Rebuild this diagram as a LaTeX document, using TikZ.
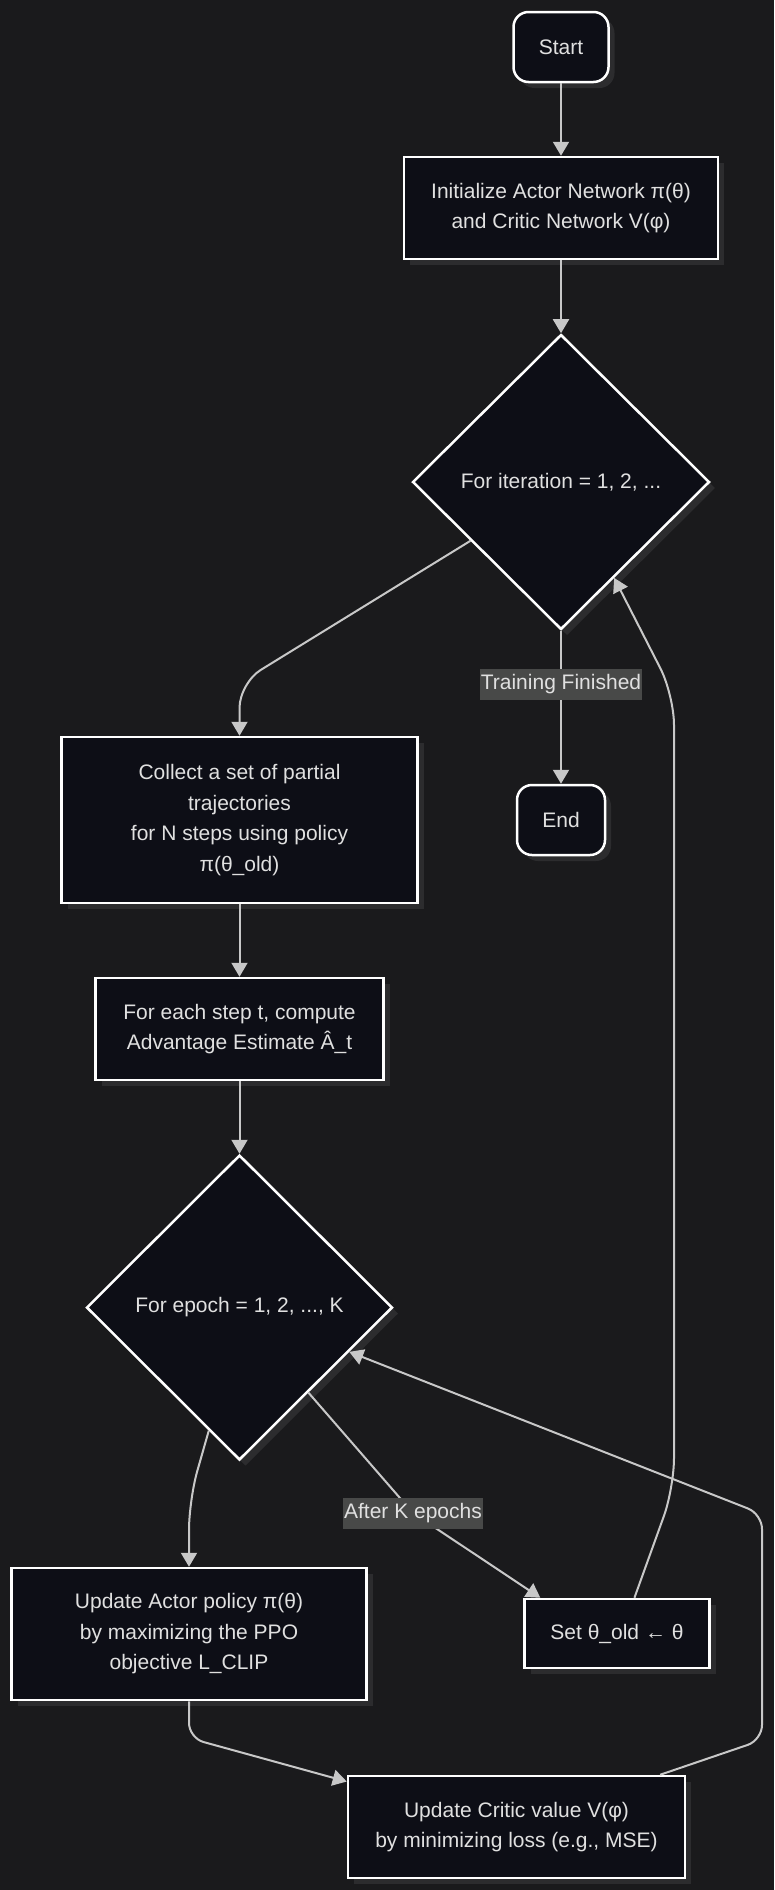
\documentclass[tikz,border=0pt]{standalone}
\usepackage{fontspec}
\setmainfont{Liberation Sans}
\usepackage{xcolor}
\usepackage{tikz}
\usetikzlibrary{shapes.geometric}
\usetikzlibrary{shadows}
\usetikzlibrary{arrows.meta}

\definecolor{canvas}{RGB}{26,26,28}
\definecolor{boxfill}{RGB}{13,14,22}
\definecolor{boxshadow}{RGB}{44,44,46}
\definecolor{flowtext}{RGB}{224,224,224}
\definecolor{flowline}{RGB}{200,200,200}
\definecolor{labelfill}{RGB}{72,73,72}

\tikzset{flow box/.style={
  rectangle, draw=white, line width=2.5pt, fill=boxfill,
  text=flowtext, align=center, inner sep=0pt,
  font=\fontsize{21}{30.5}\selectfont,
  drop shadow={shadow xshift=6pt, shadow yshift=-6pt,
    fill=boxshadow, opacity=1}
  }
}
\tikzset{flow diamond/.style={
  flow box, diamond
  }
}
\tikzset{flow arrow/.style={
  draw=flowline, line width=2pt,
  -{Triangle[width=16pt,length=14pt]}
  }
}
\tikzset{flow label/.style={
  fill=labelfill, text=flowtext, sharp corners,
  inner xsep=1pt, inner ysep=0pt, minimum height=31pt,
  font=\fontsize{21}{25}\selectfont
  }
}

\begin{document}
\begin{tikzpicture}[x=1pt, y=-1pt]

    % Background: dark canvas
    \fill[canvas] (0,0) rectangle (774,1890);
    \useasboundingbox (0,0) rectangle (774,1890);

    % Nodes: outer loop
    \node[flow box, rounded corners=15pt, minimum width=95pt, minimum height=70pt] (start) at (561,47) {Start};
    \node[flow box, minimum width=314pt, minimum height=102pt] (init) at (561,208) {Initialize Actor Network π(θ)\\and Critic Network V(φ)};
    \node[flow diamond, minimum width=297pt, minimum height=295pt] (iter) at (561,482) {For iteration = 1, 2, ...};
    \node[flow box, rounded corners=15pt, minimum width=88pt, minimum height=70pt] (finish) at (561,820) {End};

    % Nodes: rollout and advantage
    \node[flow box, minimum width=356pt, minimum height=166pt] (collect) at (239.5,820) {Collect a set of partial\\trajectories\\for N steps using policy\\π(θ\_old)};
    \node[flow box, minimum width=288pt, minimum height=102pt] (adv) at (239.5,1029) {For each step t, compute\\Advantage Estimate Â\_t};

    % Nodes: inner loop
    \node[flow diamond, minimum width=306pt, minimum height=305pt] (epoch) at (239.5,1307.5) {For epoch = 1, 2, ..., K};
    \node[flow box, minimum width=355pt, minimum height=132pt] (actor) at (189,1634) {Update Actor policy π(θ)\\by maximizing the PPO\\objective L\_CLIP};
    \node[flow box, minimum width=185pt, minimum height=69pt] (setold) at (617,1633.5) {Set θ\_old ← θ};
    \node[flow box, minimum width=337pt, minimum height=102pt] (critic) at (516.5,1827) {Update Critic value V(φ)\\by minimizing loss (e.g., MSE)};

    % Arrows: outer loop
    \draw[flow arrow] (start) -- (init);
    \draw[flow arrow] (init) -- (iter);
    \draw[flow arrow] (iter) -- node[flow label, pos=0.35] {Training Finished} (finish);
    \draw[flow arrow, rounded corners=25pt] (iter.213.5) -- (239.5,683) -- (collect.north);
    \draw[flow arrow] (collect) -- (adv);
    \draw[flow arrow] (adv) -- (epoch);

    % Arrows: inner loop
    \draw[flow arrow, rounded corners=30pt] (epoch.256.6) -- (189,1500) -- (actor.north);
    \draw[flow arrow, rounded corners=15pt] (actor.south) -- (189,1738) -- (critic.165);
    \draw[flow arrow, rounded corners=15pt] (critic.20) -- (762,1740) -- (762,1514) -- (epoch.338.9);
    \draw[flow arrow] (epoch.309.9) -- (413,1513) node[flow label] {After K epochs} -- (setold.155);

    % Arrow: back to outer loop
    \draw[flow arrow, rounded corners=30pt] (setold.64.7) -- (674,1488) -- (674,695) -- (iter.299.2);

\end{tikzpicture}
\end{document}
